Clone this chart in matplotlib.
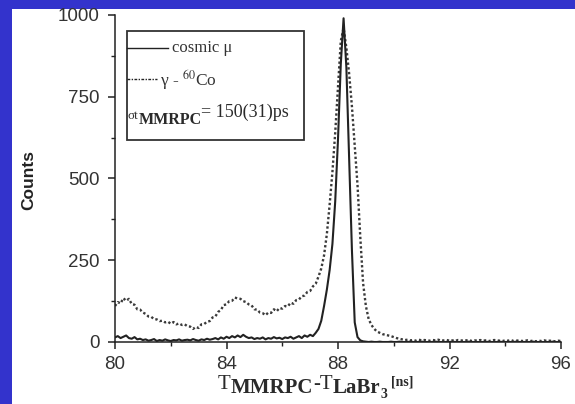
import numpy as np
import matplotlib.pyplot as plt
from matplotlib.patches import Rectangle

plt.rcParams['mathtext.fontset'] = 'stix'

# === data (counts per 0.1 ns bin, 80.0 ... 96.0 ns) ===
t_start, t_stop = 80.0, 96.0

gamma_co60 = [
    110, 122, 118, 134, 126, 132, 116, 114, 100, 99,
    90, 86, 78, 77, 70, 69, 64, 65, 60, 62,
    56, 61, 54, 57, 52, 54, 48, 47, 40, 46,
    43, 54, 55, 62, 64, 75, 78, 92, 98, 113,
    115, 125, 126, 136, 133, 132, 125, 122, 115, 112,
    100, 99, 90, 88, 82, 90, 89, 100, 94, 104,
    102, 110, 109, 120, 117, 128, 130, 140, 142, 153,
    156, 170, 178, 200, 225, 265, 330, 420, 520, 640,
    780, 920, 960, 900, 820, 720, 600, 480, 320, 180,
    110, 70, 52, 40, 32, 28, 24, 22, 20, 18,
    15, 12, 10, 8, 6, 7, 5, 6, 4, 7,
    5, 6, 5, 4, 6, 5, 7, 4, 5, 6,
    4, 5, 3, 6, 5, 4, 5, 6, 3, 5,
    4, 6, 4, 5, 3, 4, 6, 5, 4, 3,
    5, 4, 6, 3, 4, 5, 3, 4, 5, 3,
    4, 2, 4, 3, 5, 3, 4, 3, 2, 4,
    3,
]

cosmic_mu = [
    14, 18, 12, 16, 20, 12, 10, 15, 8, 10,
    6, 8, 4, 6, 9, 3, 6, 4, 8, 5,
    3, 6, 5, 8, 4, 6, 7, 5, 9, 6,
    4, 8, 6, 10, 7, 9, 12, 8, 14, 10,
    16, 12, 18, 14, 20, 15, 22, 16, 12, 14,
    9, 12, 10, 14, 8, 12, 10, 15, 11, 13,
    9, 14, 12, 16, 10, 14, 18, 12, 20, 16,
    22, 18, 28, 40, 65, 110, 160, 220, 300, 430,
    620, 850, 990, 840, 560, 280, 60, 15, 5, 2,
    1, 0, 1, 0, 0, 1, 0, 0, 0, 1,
    0, 0, 1, 0, 0, 0, 1, 0, 0, 0,
    1, 0, 0, 0, 0, 1, 0, 0, 0, 0,
    0, 1, 0, 0, 0, 0, 0, 1, 0, 0,
    0, 0, 0, 1, 0, 0, 0, 0, 1, 0,
    0, 0, 0, 0, 1, 0, 0, 0, 0, 0,
    1, 0, 0, 0, 0, 0, 0, 1, 0, 0,
    0,
]

x_ticks = [80, 84, 88, 92, 96]
y_ticks = [0, 250, 500, 750, 1000]

t = np.linspace(t_start, t_stop, len(cosmic_mu))

SERIF = 'Liberation Serif'
INK = '#2a2a2a'


def chain(prev, s, dx=0, dy=0, size=15, weight='normal'):
    # put text s right after prev, shifted by (dx, dy) pixels
    return ax.annotate(s, xy=(1, 0), xycoords=prev, xytext=(dx, dy),
                       textcoords='offset pixels', fontsize=size, fontweight=weight,
                       family=SERIF, color=INK, va='bottom', ha='left',
                       annotation_clip=False, zorder=7)


# === figure with slide-like blue frame ===
fig = plt.figure(figsize=(5.75, 4.04), dpi=100, facecolor='#3333cc')
bg = Rectangle((12 / 575, 0), 1, 395 / 404, transform=fig.transFigure,
               facecolor='white', edgecolor='none', zorder=-10)
fig.add_artist(bg)

ax = fig.add_axes([115 / 575, 62 / 404, 446 / 575, 327 / 404])
ax.set_zorder(5)
ax.set_facecolor('none')

ax.plot(t, gamma_co60, color='#3a3a3a', lw=1.7, linestyle=(0, (1, 1)))
ax.plot(t, cosmic_mu, color='#222222', lw=1.5)

ax.set_xlim(t_start, t_stop)
ax.set_ylim(0, 1000)
ax.set_xticks(x_ticks)
ax.set_yticks(y_ticks)
ax.set_xticks([82, 86, 90, 94], minor=True)
ax.set_yticks([125, 375, 625, 875], minor=True)

for s in ['top', 'right']:
    ax.spines[s].set_visible(False)
for s in ['left', 'bottom']:
    ax.spines[s].set_color('#222222')
    ax.spines[s].set_linewidth(1.1)

ax.tick_params(which='major', direction='out', length=5, width=1.1, color='#222222',
               labelsize=13.5, labelcolor='#333333', pad=5)
ax.tick_params(which='minor', direction='out', length=3, width=1, color='#222222')
ax.tick_params(axis='y', which='major', pad=6)
for lab in ax.get_xticklabels() + ax.get_yticklabels():
    lab.set_family('Liberation Sans')

ax.set_ylabel('Counts', family='Liberation Sans', fontweight='bold', fontsize=12.5,
              color='#222222')
ax.yaxis.set_label_coords(-0.177, 0.495)

# x label: T_MMRPC - T_LaBr3 [ns], built piece by piece
x1 = ax.text(0.231, -0.160, 'T', transform=ax.transAxes, fontsize=15, family=SERIF,
             color=INK, va='bottom', ha='left')
x2 = chain(x1, 'MMRPC', 0, -4, weight='bold')
x3 = chain(x2, '-T', 0, 4)
x4 = chain(x3, 'LaBr', 0, -4, weight='bold')
x5 = chain(x4, '3', 0, -3, size=10, weight='bold')
x6 = chain(x5, '[ns]', 4, 13, size=10, weight='bold')

# === legend box drawn by hand ===
ax.add_patch(Rectangle((0.026, 0.618), 0.397, 0.333, transform=ax.transAxes,
                       facecolor='white', edgecolor='#333333', lw=1.3, zorder=5))
ax.plot([0.026, 0.119], [0.898, 0.898], transform=ax.transAxes, color='#222222', lw=1.0,
        zorder=6)
ax.plot([0.026, 0.094], [0.804, 0.804], transform=ax.transAxes, color='#222222', lw=1.0,
        linestyle=(0, (2, 1, 1, 1)), zorder=6)
ax.text(0.128, 0.898, 'cosmic \u03bc', transform=ax.transAxes, family=SERIF,
        fontsize=12, color='#333333', va='center', ha='left', zorder=7)
ax.text(0.100, 0.800, '\u03b3 - $^{60}$Co', transform=ax.transAxes,
        family=SERIF, fontsize=12.5, color='#333333', va='center', ha='left',
        zorder=7)
s1 = ax.text(0.028, 0.672, '\u03c3t', transform=ax.transAxes, fontsize=9.5, family=SERIF,
             color='#333333', va='bottom', ha='left', zorder=7)
s2 = chain(s1, 'MMRPC', 0, -6, size=11.5, weight='bold')
s3 = chain(s2, '= 150(31)ps', 0, 7, size=13)

plt.savefig('out.png', dpi=100, facecolor=fig.get_facecolor())
